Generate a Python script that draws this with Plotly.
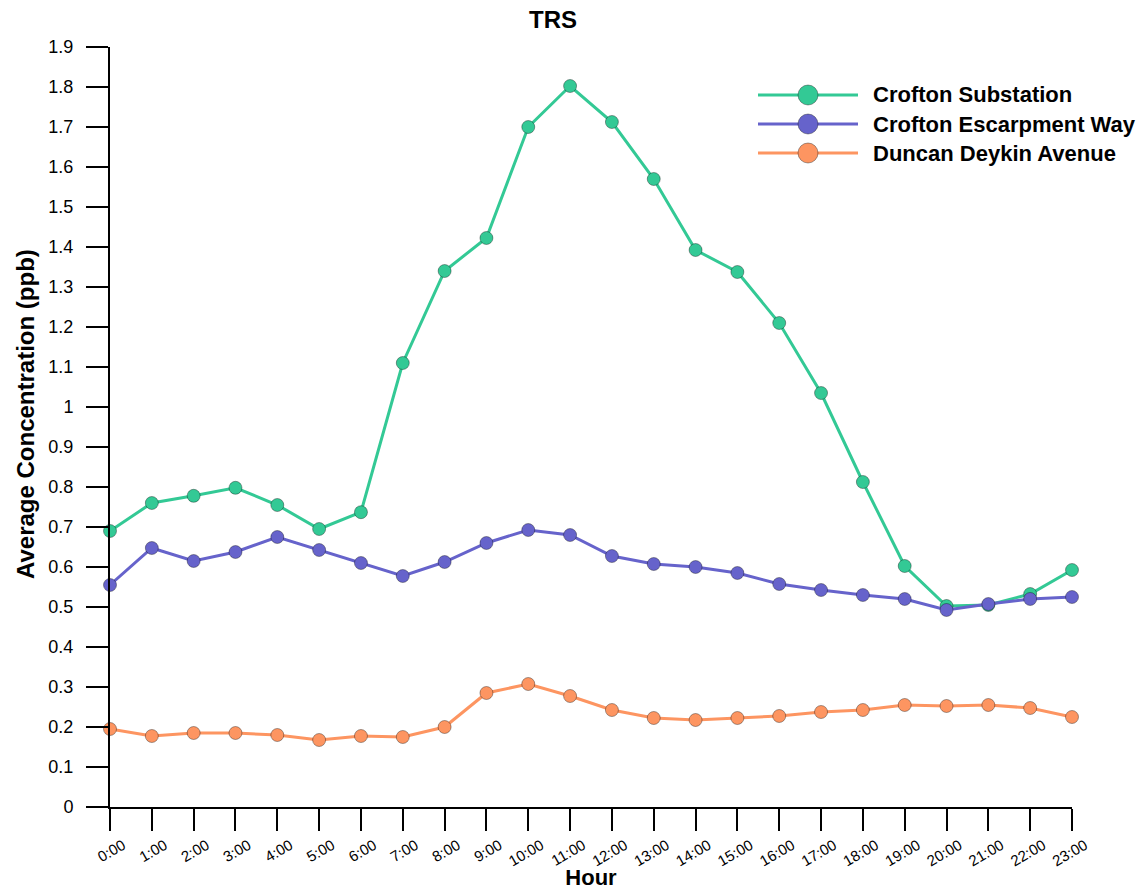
import plotly.graph_objects as go

hours = [f"{h}:00" for h in range(24)]
crofton_substation = [0.69, 0.76, 0.778, 0.798, 0.755, 0.695, 0.737, 1.11, 1.34, 1.4225, 1.70, 1.8025,
                      1.7125, 1.57, 1.3925, 1.3375, 1.21, 1.035, 0.8125, 0.6025, 0.5025, 0.505, 0.5325, 0.5925]
crofton_escarpment = [0.555, 0.6475, 0.615, 0.6375, 0.675, 0.6425, 0.61, 0.5775, 0.6125, 0.66, 0.6925, 0.68,
                      0.6275, 0.6075, 0.60, 0.585, 0.5575, 0.5425, 0.53, 0.52, 0.4925, 0.5075, 0.52, 0.525]
duncan_deykin = [0.195, 0.1775, 0.185, 0.185, 0.18, 0.1675, 0.1775, 0.175, 0.2, 0.285, 0.3075, 0.2775,
                 0.2425, 0.2225, 0.2175, 0.2225, 0.2275, 0.2375, 0.2425, 0.255, 0.2525, 0.255, 0.2475, 0.225]

series_names = ["Crofton Substation", "Crofton Escarpment Way", "Duncan Deykin Avenue"]
series_values = [crofton_substation, crofton_escarpment, duncan_deykin]
colors = ["#33c995", "#6663cb", "#fd9561"]
y_ticks = [round(i * 0.1, 1) for i in range(20)]

FONT = "Liberation Sans, Arial, sans-serif"

fig = go.Figure()
for name, vals, c in zip(series_names, series_values, colors):
    fig.add_trace(go.Scatter(
        x=list(range(24)), y=vals, name=name, mode="lines+markers",
        line=dict(color=c, width=3),
        marker=dict(color=c, size=13, line=dict(color="rgba(0,0,0,0.35)", width=1)),
        showlegend=False, cliponaxis=False,
    ))

FW, FH = 1139, 890
L, R, T, B = 110, 67, 47, 83
W, H = FW - L - R, FH - T - B
def px(x):
    return (x - L) / W
def py(y):
    return (FH - B - y) / H

for i, (name, c) in enumerate(zip(series_names, colors)):
    yy = 95 + 29 * i
    fig.add_shape(type="line", xref="paper", yref="paper", x0=px(758), x1=px(858), y0=py(yy), y1=py(yy),
                  line=dict(color=c, width=3))
    fig.add_shape(type="circle", xref="paper", yref="paper", x0=px(798), x1=px(818), y0=py(yy - 10), y1=py(yy + 10),
                  fillcolor=c, line=dict(color="rgba(0,0,0,0.35)", width=1))
    fig.add_annotation(xref="paper", yref="paper", x=px(871), y=py(yy), text=f"<b>{name}</b>",
                       showarrow=False, xanchor="left", yanchor="middle",
                       font=dict(family=FONT, size=22, color="black"))

# y-axis title (placed as in the reference, slightly above the axis centre)
fig.add_annotation(xref="paper", yref="paper", x=px(25), y=py(414), text="<b>Average Concentration (ppb)</b>",
                   textangle=-90, showarrow=False, xanchor="center", yanchor="middle",
                   font=dict(family=FONT, size=24, color="black"))

fig.update_layout(
    width=FW, height=FH,
    margin=dict(l=L, r=R, t=T, b=B, autoexpand=False),
    plot_bgcolor="white", paper_bgcolor="white",
    title=dict(text="<b>TRS</b>", x=553 / FW, xref="container", xanchor="center",
               y=1 - 20 / FH, yref="container", yanchor="middle",
               font=dict(family=FONT, size=24, color="black")),
    font=dict(family=FONT, color="black"),
    xaxis=dict(
        tickmode="array", tickvals=list(range(24)), ticktext=hours, tickangle=-30,
        range=[0, 23], showgrid=False, zeroline=False, automargin=False,
        showline=True, linecolor="black", linewidth=2,
        ticks="outside", ticklen=22, tickwidth=2, tickcolor="black",
        ticklabelshift=13, ticklabelstandoff=0,
        tickfont=dict(family=FONT, size=15, color="black"),
        title=dict(text="<b>Hour</b>", font=dict(family=FONT, size=22, color="black"), standoff=0),
    ),
    yaxis=dict(
        tickmode="array", tickvals=y_ticks, ticktext=[("%g" % v) for v in y_ticks],
        range=[0, 1.9], showgrid=False, zeroline=False, automargin=False,
        showline=True, linecolor="black", linewidth=2,
        ticks="outside", ticklen=22, tickwidth=2, tickcolor="black",
        ticklabelstandoff=9,
        tickfont=dict(family=FONT, size=18, color="black"),
    ),
)

fig.write_html("out.html", config={"displayModeBar": False},
               post_script="document.body.style.margin='0';document.body.style.overflow='hidden';")
